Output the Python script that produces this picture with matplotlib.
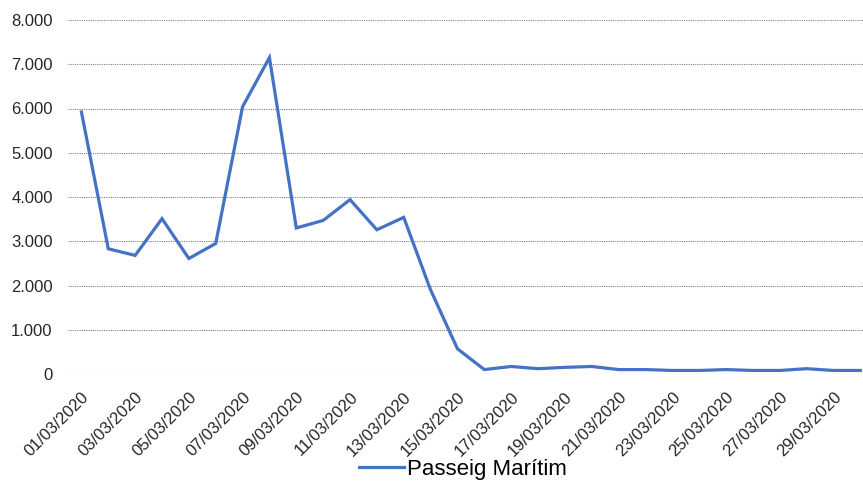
import matplotlib.pyplot as plt
from matplotlib.ticker import FuncFormatter

plt.rcParams['font.family'] = ['Liberation Sans', 'DejaVu Sans']

dates = [f"{d:02d}/03/2020" for d in range(1, 31)]
passeig = [5920, 2830, 2680, 3510, 2610, 2950, 6040, 7150, 3300, 3470,
           3940, 3260, 3540, 1900, 570, 100, 170, 120, 150, 170,
           100, 100, 80, 80, 100, 80, 80, 120, 80, 80]

fig = plt.figure(figsize=(8.63, 4.82), dpi=100)
ax = fig.add_axes([68 / 863, 108 / 482, 1 - 68 / 863, 354 / 482])

x = list(range(len(dates)))
ax.plot(x, passeig, color="#4472C4", linewidth=2.3, label="Passeig Marítim",
        solid_joinstyle="miter")

ax.set_ylim(0, 8000)
ax.set_xlim(-0.5, 29.1)
ax.set_yticks(range(0, 8001, 1000))
ax.yaxis.set_major_formatter(FuncFormatter(lambda v, p: f"{int(v):,}".replace(",", ".")))
ax.set_xticks(x[::2])
ax.set_xticklabels(dates[::2], rotation=45, ha="right", va="top", rotation_mode="anchor")

ax.grid(axis="y", linestyle=(0, (1, 1)), linewidth=0.8, color="#808080")
ax.set_axisbelow(True)
for s in ax.spines.values():
    s.set_visible(False)
ax.tick_params(axis="both", length=0, labelsize=12, colors="#262626")
ax.tick_params(axis="y", pad=11)
ax.tick_params(axis="x", pad=11)

fig.legend(loc="center", bbox_to_anchor=(463 / 863, 1 - 469 / 482), frameon=False,
           fontsize=16, handlelength=2.0, handletextpad=0.15,
           borderpad=0, borderaxespad=0)

fig.savefig("out.png", dpi=100)
